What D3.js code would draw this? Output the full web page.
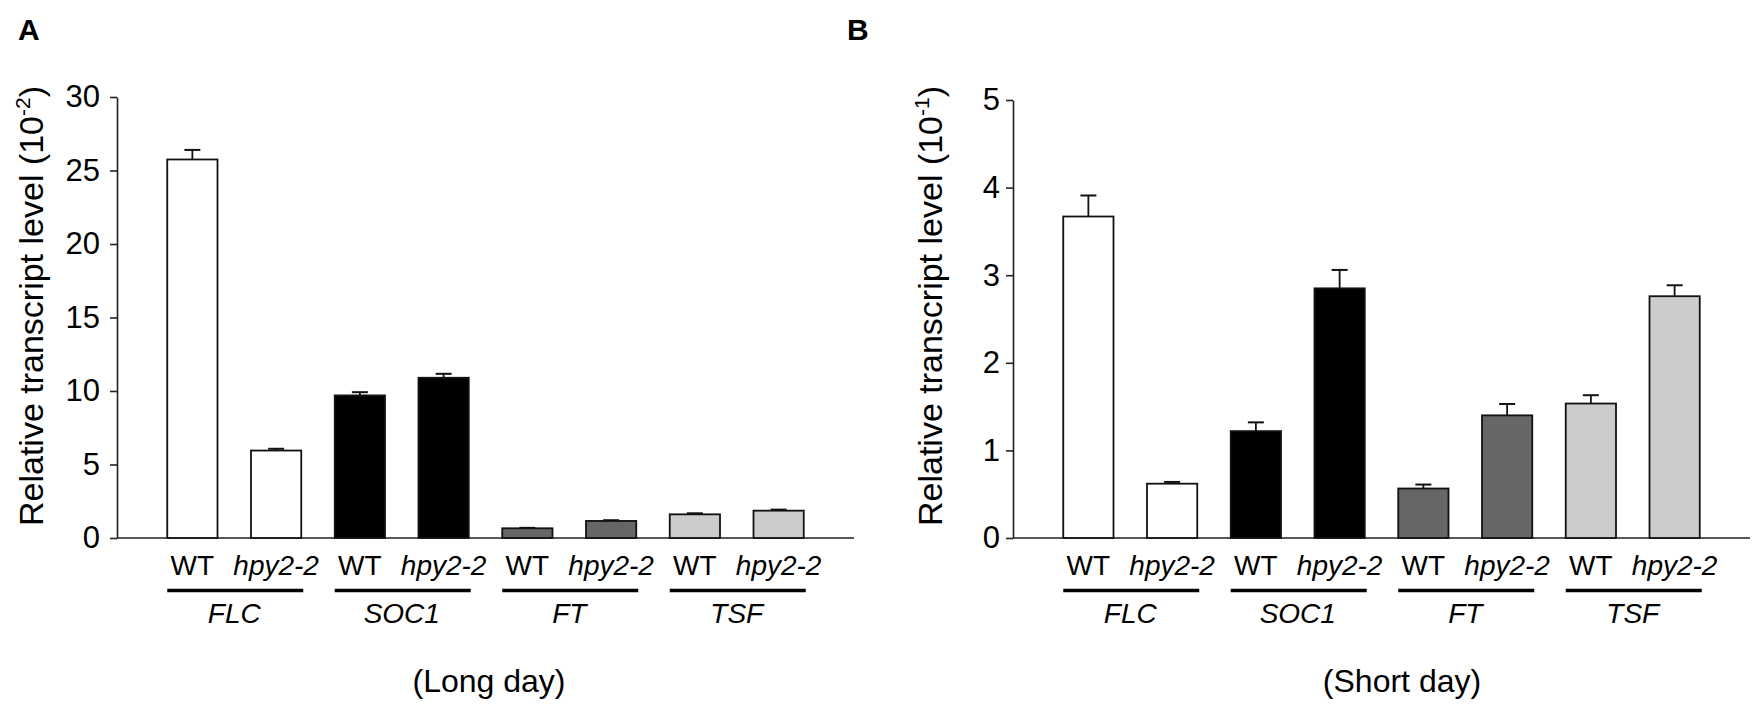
<!DOCTYPE html>
<html>
<head>
<meta charset="utf-8">
<script src="https://cdn.jsdelivr.net/npm/d3@7"></script>
<style>
  html, body { margin: 0; padding: 0; background: #fff; }
  svg { display: block; }
  text { font-family: "Liberation Sans", Arial, sans-serif; fill: #000; }
</style>
</head>
<body>
<svg id="chart" width="1752" height="704"></svg>
<script>
// ---- data ----
const genes = ["FLC", "SOC1", "FT", "TSF"];
const genotypes = ["WT", "hpy2-2"];
const geneColors = ["#ffffff", "#000000", "#666666", "#cccccc"];

const longDayMean = [25.75, 5.95, 9.7, 10.9, 0.66, 1.16, 1.61, 1.86];
const longDayErr  = [0.65, 0.12, 0.22, 0.27, 0.03, 0.05, 0.07, 0.07];
const longDayTicks = [0, 5, 10, 15, 20, 25, 30];

const shortDayMean = [3.67, 0.62, 1.22, 2.85, 0.565, 1.40, 1.535, 2.76];
const shortDayErr  = [0.24, 0.02, 0.10, 0.21, 0.045, 0.13, 0.095, 0.125];
const shortDayTicks = [0, 1, 2, 3, 4, 5];

const panels = [
  { letter: "A", exp: "-2", caption: "(Long day)", mean: longDayMean, err: longDayErr,
    ticks: longDayTicks, yMax: 30, x0: 117, x1: 854, yTop: 97, letterX: 18,
    titleX: 43, tickPad: 10, captionX: 489 },
  { letter: "B", exp: "-1", caption: "(Short day)", mean: shortDayMean, err: shortDayErr,
    ticks: shortDayTicks, yMax: 5, x0: 1013, x1: 1750, yTop: 100, letterX: 847,
    titleX: 942, tickPad: 6, captionX: 1402 }
];

const svg = d3.select("#chart");
const yBase = 538;

panels.forEach(p => {
  const keys = [];
  genes.forEach((g, gi) => genotypes.forEach((t, ti) => keys.push({ gene: g, gi, type: t, ti })));
  const data = keys.map((k, i) => ({ ...k, key: k.gene + "_" + k.type, mean: p.mean[i], err: p.err[i] }));

  const x = d3.scaleBand().domain(data.map(d => d.key)).range([p.x0, p.x1])
    .paddingInner(0.4).paddingOuter(0.6);
  const y = d3.scaleLinear().domain([0, p.yMax]).range([yBase, p.yTop]);

  const g = svg.append("g");

  // panel letter
  g.append("text").attr("x", p.letterX).attr("y", 40)
    .attr("font-size", 30).attr("font-weight", "bold").text(p.letter);

  // y axis
  const yAxis = d3.axisLeft(y).tickValues(p.ticks).tickSize(7).tickSizeOuter(0)
    .tickPadding(p.tickPad).tickFormat(d3.format("d"));
  const ya = g.append("g").attr("transform", `translate(${p.x0},0)`).call(yAxis);
  ya.selectAll("path, line").attr("stroke", "#222").attr("stroke-width", 1.6);
  ya.selectAll("text").attr("font-size", 31).attr("font-family", "Liberation Sans, Arial, sans-serif").attr("fill", "#000");

  // baseline
  g.append("line").attr("x1", p.x0).attr("x2", p.x1).attr("y1", y(0)).attr("y2", y(0))
    .attr("stroke", "#222").attr("stroke-width", 1.6);

  // y title
  const cy = 306;
  const t = g.append("text")
    .attr("transform", `translate(${p.titleX},${cy}) rotate(-90)`)
    .attr("text-anchor", "middle").attr("font-size", 34);
  t.append("tspan").text("Relative transcript level (10");
  t.append("tspan").attr("font-size", 21).attr("dy", -13).text(p.exp);
  t.append("tspan").attr("dy", 13).text(")");

  // error bars
  const eb = g.selectAll("g.err").data(data).join("g").attr("class", "err");
  eb.append("line")
    .attr("x1", d => x(d.key) + x.bandwidth() / 2).attr("x2", d => x(d.key) + x.bandwidth() / 2)
    .attr("y1", d => y(d.mean)).attr("y2", d => y(d.mean + d.err))
    .attr("stroke", "#111").attr("stroke-width", 1.8);
  eb.append("line")
    .attr("x1", d => x(d.key) + x.bandwidth() / 2 - 8).attr("x2", d => x(d.key) + x.bandwidth() / 2 + 8)
    .attr("y1", d => y(d.mean + d.err)).attr("y2", d => y(d.mean + d.err))
    .attr("stroke", "#111").attr("stroke-width", 2);

  // bars
  g.selectAll("rect.bar").data(data).join("rect").attr("class", "bar")
    .attr("x", d => x(d.key)).attr("width", x.bandwidth())
    .attr("y", d => y(d.mean)).attr("height", d => y(0) - y(d.mean))
    .attr("fill", d => geneColors[d.gi]).attr("stroke", "#111").attr("stroke-width", 1.8);

  // genotype labels
  g.selectAll("text.gt").data(data).join("text").attr("class", "gt")
    .attr("x", d => x(d.key) + x.bandwidth() / 2).attr("y", 575)
    .attr("text-anchor", "middle").attr("font-size", 28)
    .attr("font-style", d => d.ti === 1 ? "italic" : "normal")
    .text(d => d.type);

  // gene underlines and labels
  genes.forEach((gn, gi) => {
    const a = x(gn + "_" + genotypes[0]);
    const b = x(gn + "_" + genotypes[1]) + x.bandwidth();
    g.append("line").attr("x1", a).attr("x2", b + 2).attr("y1", 590.5).attr("y2", 590.5)
      .attr("stroke", "#000").attr("stroke-width", 3.5);
    g.append("text").attr("x", (a + b) / 2).attr("y", 623)
      .attr("text-anchor", "middle").attr("font-size", 28).attr("font-style", "italic").text(gn);
  });

  // caption
  g.append("text").attr("x", p.captionX).attr("y", 692).attr("text-anchor", "middle")
    .attr("font-size", 32).text(p.caption);
});
</script>
</body>
</html>
